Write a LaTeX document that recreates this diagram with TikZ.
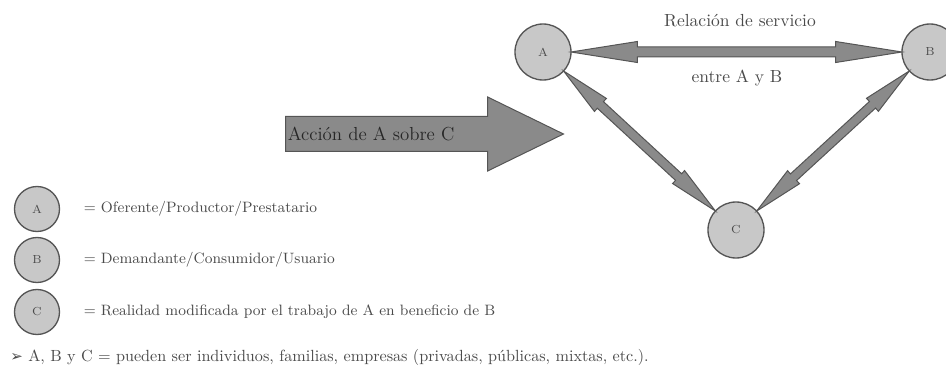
\documentclass[tikz,border=0pt]{standalone}
\usepackage{fontspec}
\newfontfamily\dejavu{DejaVu Sans}
\usepackage{tikz}
\usetikzlibrary{shapes.arrows,positioning,calc}
\definecolor{circgray}{HTML}{C8C8C8}
\definecolor{arrgray}{HTML}{8A8A8A}
\definecolor{edgegray}{HTML}{555555}
\definecolor{txtgray}{HTML}{4A4A4A}

\begin{document}
\begin{tikzpicture}[x=0.6pt,y=-0.6pt,
  actor/.style={circle,draw=edgegray,fill=circgray,line width=0.8pt,
    minimum size=33.6pt,inner sep=0pt,font=\scriptsize,text=txtgray},
  legend/.style={actor,minimum size=27pt},
  link/.style={double arrow,draw=edgegray,fill=arrgray,line width=0.6pt,
    inner xsep=0pt,inner ysep=2.7pt,double arrow head extend=3.3pt,
    double arrow tip angle=18},
  diaglink/.style={link,inner ysep=2.4pt,double arrow head extend=2.6pt,
    double arrow tip angle=20},
  caption/.style={text=txtgray,font=\fontsize{10.5}{12}\selectfont,inner sep=0pt}]
  \useasboundingbox (0,0) rectangle (946,371);
  % Actors
  \node[actor] (A) at (543,52) {A};
  \node[actor] (B) at (930,52) {B};
  \node[actor] (C) at (736,230) {C};
  % Service relation between A and B
  \path let \p1=($(B)-(A)$), \n1={veclen(\x1,\y1)-33.6pt}, \n2={atan2(\y1,\x1)} in
    node[link,rotate=\n2,minimum height=\n1] (AB) at ($(A)!0.5!(B)$) {};
  \node[caption] (rel) at (740,21) {Relación de servicio};
  \node[caption] (entre) at (737,78) {entre A y B};
  % Links with C
  \path let \p1=($(C)-(A)$), \n1={veclen(\x1,\y1)-33.6pt}, \n2={atan2(\y1,\x1)} in
    node[diaglink,rotate=\n2,minimum height=\n1] (AC) at ($(A)!0.5!(C)$) {};
  \path let \p1=($(C)-(B)$), \n1={veclen(\x1,\y1)-33.6pt}, \n2={atan2(\y1,\x1)} in
    node[diaglink,rotate=\n2,minimum height=\n1] (BC) at ($(B)!0.5!(C)$) {};
  % Action of A on C
  \node[single arrow,draw=edgegray,fill=arrgray,line width=0.6pt,
    inner xsep=0pt,inner ysep=10.2pt,minimum height=166.8pt,
    single arrow head extend=11.7pt,single arrow tip angle=52,anchor=tail] (big) at (285,134) {};
  \node[caption,text=black!85,font=\fontsize{11.3}{13}\selectfont,anchor=west] (accion) at ([xshift=1.5pt]big.tail) {Acción de A sobre C};
  % Legend
  \node[legend] (legA) at (37,209) {A};
  \node[legend] (legB) at (37,260) {B};
  \node[legend] (legC) at (37,312) {C};
  \node[caption,font=\small,right=14pt of legA] (txtA) {= Oferente/Productor/Prestatario};
  \node[caption,font=\small,right=14pt of legB] (txtB) {= Demandante/Consumidor/Usuario};
  \node[caption,font=\small,right=14pt of legC] (txtC) {= Realidad modificada por el trabajo de A en beneficio de B};
  \node[caption,font=\fontsize{9.7}{12}\selectfont,anchor=west] (nota) at (10,357)
    {{\dejavu\small ➢} A, B y C = pueden ser individuos, familias, empresas (privadas, públicas, mixtas, etc.).};
\end{tikzpicture}
\end{document}
